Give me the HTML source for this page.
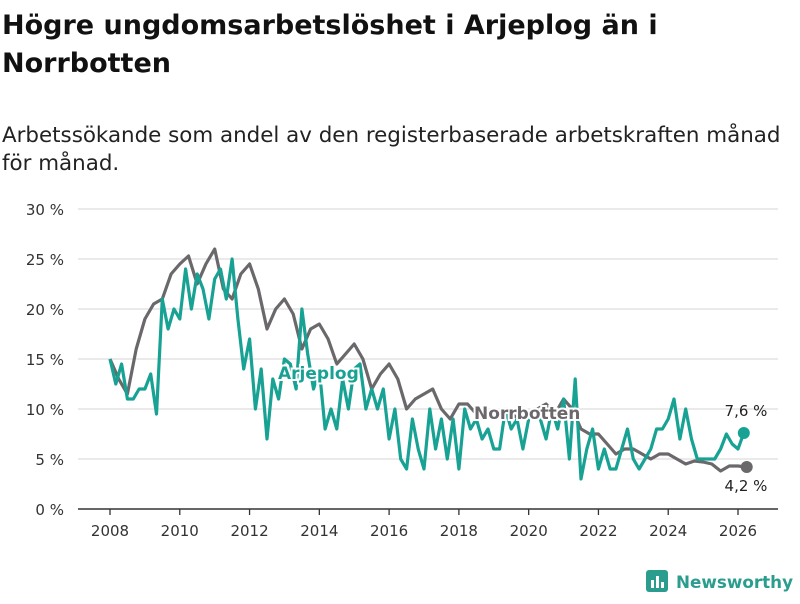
<!DOCTYPE html>
<html><head><meta charset="utf-8"><style>
body{margin:0;background:#fff;width:800px;height:600px;overflow:hidden;font-family:"DejaVu Sans","Liberation Sans",sans-serif;}
</style></head><body>
<svg width="800" height="600" xmlns="http://www.w3.org/2000/svg">
<text x="2" y="34" font-size="27" font-weight="bold" fill="#111">Högre ungdomsarbetslöshet i Arjeplog än i</text>
<text x="2" y="72" font-size="27" font-weight="bold" fill="#111">Norrbotten</text>
<text x="2" y="142" font-size="21.4" fill="#222">Arbetssökande som andel av den registerbaserade arbetskraften månad</text>
<text x="2" y="170" font-size="21.4" fill="#222">för månad.</text>
<g id="grid"></g><g id="xaxis"></g><g id="lines"></g><g id="labels"></g>
<g>
<rect x="646" y="570" width="22" height="22" rx="3" fill="#2a9d8f"/>
<rect x="651" y="580" width="3" height="8" fill="#fff"/><rect x="656" y="576" width="3" height="12" fill="#fff"/><rect x="661" y="582" width="3" height="6" fill="#fff"/>
<text x="676" y="588" font-size="17" font-weight="bold" fill="#2a9d8f" textLength="117" lengthAdjust="spacingAndGlyphs">Newsworthy</text>
</g>
</svg>
<script>
const yTicks=[0,5,10,15,20,25,30];
const xTicks=[2008,2010,2012,2014,2016,2018,2020,2022,2024,2026];
const norrStart=2008, norrStep=0.25;
const norrValues=[15,13,11.5,16,19,20.5,21,23.5,24.5,25.3,22.5,24.5,26,22,21,23.5,24.5,22,18,20,21,19.5,16,18,18.5,17,14.5,15.5,16.5,15,12,13.5,14.5,13,10,11,11.5,12,10,9,10.5,10.5,9.5,9,9.5,10,9.5,9,9.5,10,10.5,9.5,11,10,8,7.5,7.5,6.5,5.5,6,6,5.5,5,5.5,5.5,5,4.5,4.8,4.7,4.5,3.8,4.3,4.3,4.2];
const arjStart=2008, arjStep=1/6;
const arjValues=[15,12.5,14.5,11,11,12, 12,13.5,9.5,21,18,20, 19,24,20,23.5,22,19, 23,24,21,25,19,14, 17,10,14,7,13,11, 15,14.5,12,20,15.5,12, 14,8,10,8,13,10, 14,14.5,10,12,10,12, 7,10,5,4,9,6, 4,10,6,9,5,9, 4,10,8,9,7,8, 6,6,10,8,9,6, 9,10,9,7,10,8, 11,5,13,3,6,8, 4,6,4,4,6,8, 5,4,5,6,8,8, 9,11,7,10,7,5, 5,5,5,6,7.5,6.5, 6,7.6];
const NS="http://www.w3.org/2000/svg";
const X=y=>110+(y-2008)*(738-110)/18;
const Y=v=>509-v*10;
function mk(tag,attrs,parent){const e=document.createElementNS(NS,tag);for(const k in attrs)e.setAttribute(k,attrs[k]);document.getElementById(parent).appendChild(e);return e;}
yTicks.forEach(t=>{
 const l=mk('line',{x1:78,x2:778,y1:Y(t),y2:Y(t),stroke:t===0?'#333':'#ddd','stroke-width':t===0?1.5:1.3},'grid');
 
 
 const tx=mk('text',{x:64,y:Y(t)+6,'text-anchor':'end','font-size':15,fill:'#333'},'grid');
 tx.textContent=t+' %';
 
 
});
xTicks.forEach(t=>{
 const l=mk('line',{x1:X(t),x2:X(t),y1:509,y2:515,stroke:'#333','stroke-width':1.3},'xaxis');
 
 
 const tx=mk('text',{x:X(t),y:536,'text-anchor':'middle','font-size':15,fill:'#333'},'xaxis');
 tx.textContent=t;
 
 
});
function series(vals,start,step,color,name){
 const pts=vals.map((v,i)=>X(start+i*step).toFixed(1)+','+Y(v).toFixed(1)).join(' ');
 const p=mk('polyline',{points:pts,fill:'none',stroke:color,'stroke-width':3.2,'stroke-linejoin':'round'},'lines');
 
 
 const n=vals.length-1;
 const c=mk('circle',{cx:X(start+n*step),cy:Y(vals[n]),r:6,fill:color},'lines');
 
 
}
series(norrValues,norrStart,norrStep,'#6b686c','norrbotten');
series(arjValues,arjStart,arjStep,'#17a294','arjeplog');
function lab(x,y,txt,color,bold,name,anchor){
 const t=mk('text',{x:x,y:y,'font-size':bold?17:15,'font-weight':bold?'bold':'normal',fill:color,'text-anchor':anchor||'start',stroke:bold?'#fff':'none','stroke-width':bold?4:0,'paint-order':'stroke'},'labels');
 t.textContent=txt;
 
 
}
lab(278,379,'Arjeplog','#17a294',true,'arjeplog-label');
lab(474,419,'Norrbotten','#6b686c',true,'norrbotten-label');
lab(746,416,'7,6 %','#222',false,'arjeplog-end-value','middle');
lab(746,491,'4,2 %','#222',false,'norrbotten-end-value','middle');
</script>
</body></html>
